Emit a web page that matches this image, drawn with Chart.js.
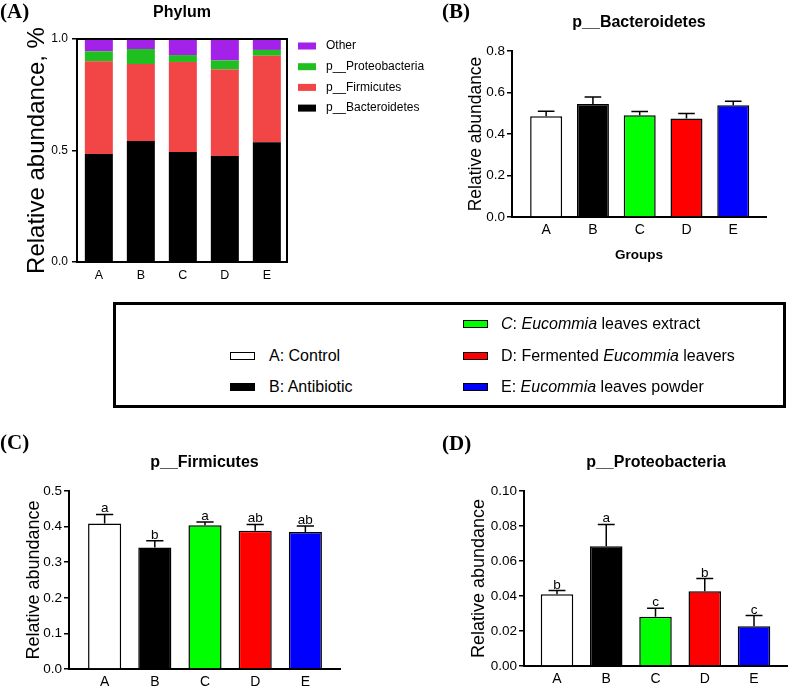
<!DOCTYPE html>
<html>
<head>
<meta charset="utf-8">
<script src="https://cdn.jsdelivr.net/npm/chart.js@4.4.1/dist/chart.umd.min.js"></script>
<style>
  html, body { margin: 0; padding: 0; background: #fff; }
  #wrap { position: relative; width: 788px; height: 688px; background: #fff; overflow: hidden; font-family: 'Liberation Sans', Arial, sans-serif; }
  canvas { position: absolute; }
  .plabel { position: absolute; font-family: 'Liberation Serif', 'Times New Roman', serif; font-weight: bold; font-size: 21px; line-height: 21px; color: #000; }
  #legendBox { position: absolute; left: 113px; top: 302px; width: 673px; height: 106px; border: 3px solid #000; box-sizing: border-box; }
  .sw { position: absolute; width: 25px; height: 8px; box-sizing: border-box; border: 1.5px solid #000; }
  .lt { position: absolute; font-size: 16px; line-height: 16px; color: #000; white-space: nowrap; }
</style>
</head>
<body>
<div id="wrap">
  <canvas id="cA" width="430" height="290" style="left:0;top:0"></canvas>
  <canvas id="cB" width="388" height="290" style="left:400px;top:0"></canvas>
  <canvas id="cC" width="390" height="278" style="left:0;top:410px"></canvas>
  <canvas id="cD" width="398" height="278" style="left:390px;top:410px"></canvas>

  <div class="plabel" style="left:0;top:1px">(A)</div>
  <div class="plabel" style="left:442px;top:1px">(B)</div>
  <div class="plabel" style="left:0;top:432px">(C)</div>
  <div class="plabel" style="left:442px;top:433px">(D)</div>

  <div id="legendBox"></div>
  <div class="sw" style="left:230px;top:352px;background:#fff"></div>
  <div class="lt" style="left:269px;top:348px">A: Control</div>
  <div class="sw" style="left:230px;top:383px;background:#000"></div>
  <div class="lt" style="left:269px;top:379px">B: Antibiotic</div>
  <div class="sw" style="left:463px;top:320px;background:#00ff00"></div>
  <div class="lt" style="left:501px;top:316px"><i>C</i>: <i>Eucommia</i> leaves extract</div>
  <div class="sw" style="left:463px;top:352px;background:#ff0000"></div>
  <div class="lt" style="left:501px;top:348px">D: Fermented <i>Eucommia</i> leavers</div>
  <div class="sw" style="left:463px;top:383px;background:#0000ff"></div>
  <div class="lt" style="left:501px;top:379px">E: <i>Eucommia</i> leaves powder</div>
</div>

<script>
// ---------------- data ----------------
const groups = ['A', 'B', 'C', 'D', 'E'];

// Panel A: stacked phylum composition
const phylumLabels = ['p__Bacteroidetes', 'p__Firmicutes', 'p__Proteobacteria', 'Other'];
const phylumBacteroidetes = [0.484, 0.543, 0.493, 0.475, 0.537];
const phylumFirmicutes    = [0.416, 0.345, 0.404, 0.388, 0.388];
const phylumProteobacteria= [0.045, 0.067, 0.031, 0.041, 0.026];
const phylumOther         = [0.055, 0.045, 0.072, 0.096, 0.049];
const phylumColors = ['#000000', '#f24646', '#1fbf1f', '#a321e8'];
const ticksA = [0, 0.5, 1.0];

// Panel B: p__Bacteroidetes (mean, upper error bar end)
const bactMean = [0.485, 0.544, 0.490, 0.475, 0.539];
const bactErrTop = [0.510, 0.578, 0.509, 0.499, 0.558];
const ticksB = [0, 0.2, 0.4, 0.6, 0.8];

// Panel C: p__Firmicutes
const firmMean = [0.409, 0.341, 0.404, 0.388, 0.385];
const firmErrTop = [0.434, 0.360, 0.413, 0.406, 0.402];
const firmLetters = ['a', 'b', 'a', 'ab', 'ab'];
const ticksC = [0, 0.1, 0.2, 0.3, 0.4, 0.5];

// Panel D: p__Proteobacteria
const proteoMean = [0.0410, 0.0685, 0.0282, 0.0427, 0.0227];
const proteoErrTop = [0.0431, 0.0809, 0.0330, 0.0500, 0.0288];
const proteoLetters = ['b', 'a', 'c', 'b', 'c'];
const ticksD = [0, 0.02, 0.04, 0.06, 0.08, 0.10];

const groupColors = ['#ffffff', '#000000', '#00ff00', '#ff0000', '#0000ff'];

// ---------------- plugins ----------------
const FONT = "'Liberation Sans', Arial, sans-serif";
Chart.defaults.font.family = FONT;
Chart.defaults.color = '#000';

const errorBars = {
  id: 'errorBars',
  afterDatasetsDraw(chart, args, opts) {
    if (!opts.tops) return;
    const meta = chart.getDatasetMeta(0);
    const ys = chart.scales.y;
    const ctx = chart.ctx;
    ctx.save();
    ctx.strokeStyle = '#000';
    ctx.fillStyle = '#000';
    ctx.lineWidth = 1.5;
    ctx.font = '13.5px ' + FONT;
    ctx.textAlign = 'center';
    ctx.textBaseline = 'alphabetic';
    meta.data.forEach((bar, i) => {
      const yTop = ys.getPixelForValue(opts.tops[i]);
      const half = bar.width * 0.26;
      ctx.beginPath();
      ctx.moveTo(bar.x, bar.y);
      ctx.lineTo(bar.x, yTop);
      ctx.moveTo(bar.x - half, yTop);
      ctx.lineTo(bar.x + half, yTop);
      ctx.stroke();
      if (opts.letters) ctx.fillText(opts.letters[i], bar.x, yTop - 2);
    });
    ctx.restore();
  }
};

const frame = {
  id: 'frame',
  afterDatasetsDraw(chart, args, opts) {
    if (!opts.display) return;
    const {ctx, chartArea: a} = chart;
    ctx.save();
    ctx.strokeStyle = '#000';
    ctx.lineWidth = 2;
    ctx.beginPath();
    ctx.moveTo(a.left, a.top);
    ctx.lineTo(a.right, a.top);
    ctx.lineTo(a.right, a.bottom);
    ctx.stroke();
    ctx.restore();
  }
};

const sideLegend = {
  id: 'sideLegend',
  afterDraw(chart, args, opts) {
    if (!opts.display) return;
    const {ctx, chartArea: a} = chart;
    const items = chart.data.datasets.map(d => ({label: d.label, color: d.backgroundColor})).reverse();
    ctx.save();
    ctx.font = '12px ' + FONT;
    ctx.textBaseline = 'middle';
    ctx.textAlign = 'left';
    items.forEach((it, i) => {
      const cy = a.top + 7 + i * 20.7;
      const x0 = a.right + 11;
      ctx.fillStyle = it.color;
      ctx.fillRect(x0, cy - 3.5, 18, 7);
      ctx.fillStyle = '#000';
      ctx.fillText(it.label, x0 + 28, cy);
    });
    ctx.restore();
  }
};

// ---------------- builders ----------------
function xAxis(o) {
  return {
    type: 'linear', min: o.xMin, max: o.xMax, offset: false, stacked: !!o.stacked,
    grid: {display: false, drawTicks: false},
    border: {display: true, color: '#000', width: 2},
    ticks: {
      font: {size: o.xFont, lineHeight: 1}, color: '#000', padding: o.xPad,
      autoSkip: false, maxRotation: 0, minRotation: 0,
      callback: (v) => groups[Math.round(v)] ?? ''
    },
    afterBuildTicks: (s) => { s.ticks = groups.map((g, i) => ({value: i})); },
    afterFit: (s) => { s.height = o.xHeight; },
    title: o.xTitle ? {
      display: true, text: o.xTitle, color: '#000',
      font: {size: 13.5, weight: 'bold', lineHeight: 1},
      padding: {top: 0, bottom: o.xTitlePad}
    } : {display: false}
  };
}

function yAxis(o) {
  return {
    min: o.ticks[0], max: o.ticks[o.ticks.length - 1], stacked: !!o.stacked,
    grid: {display: true, drawOnChartArea: false, drawTicks: true, tickLength: 5, color: '#000', lineWidth: 1.5},
    border: {display: true, color: '#000', width: 2},
    ticks: {
      font: {size: o.yFont}, color: '#000', padding: o.yPad,
      callback: (v) => Number(v).toFixed(o.dec)
    },
    afterBuildTicks: (s) => { s.ticks = o.ticks.map(v => ({value: v})); },
    afterFit: (s) => { s.width = o.yWidth; },
    title: {
      display: true, text: o.yTitle, color: '#000',
      font: {size: o.yTitleSize, lineHeight: 1},
      padding: {top: o.yTitlePad, bottom: 0}
    }
  };
}

function baseOptions(o) {
  return {
    responsive: false, animation: false, devicePixelRatio: 1,
    layout: {padding: {left: 0, top: 0, right: o.padRight, bottom: 0}},
    plugins: {
      legend: {display: false},
      tooltip: {enabled: false},
      title: {
        display: true, text: o.title, fullSize: false, color: '#000',
        font: {size: 16, weight: 'bold', lineHeight: 1},
        padding: {top: o.tTop, bottom: o.tBottom}
      },
      errorBars: {tops: o.errTop, letters: o.letters},
      frame: {display: !!o.frame},
      sideLegend: {display: !!o.sideLegend}
    },
    scales: {x: xAxis(o), y: yAxis(o)}
  };
}

const pts = (arr) => arr.map((v, i) => ({x: i, y: v}));

function groupChart(id, mean, o) {
  new Chart(document.getElementById(id), {
    type: 'bar',
    data: {
      datasets: [{
        label: o.title,
        data: pts(mean),
        backgroundColor: groupColors,
        borderColor: '#000',
        borderWidth: 1.5,
        barPercentage: o.barPct,
        categoryPercentage: 1
      }]
    },
    options: baseOptions(o),
    plugins: [errorBars]
  });
}

// ---------------- Panel A ----------------
const phylumSeries = [phylumBacteroidetes, phylumFirmicutes, phylumProteobacteria, phylumOther];
new Chart(document.getElementById('cA'), {
  type: 'bar',
  data: {
    datasets: phylumSeries.map((s, k) => ({
      label: phylumLabels[k],
      data: pts(s),
      backgroundColor: phylumColors[k],
      borderWidth: 0,
      barPercentage: 0.667,
      categoryPercentage: 1
    }))
  },
  options: baseOptions({
    title: 'Phylum', tTop: 4.5, tBottom: 18.5, padRight: 143,
    xMin: -0.52, xMax: 4.48, xFont: 12.5, xPad: 7.75, xHeight: 28, stacked: true,
    ticks: ticksA, dec: 1, yFont: 12, yPad: 4, yWidth: 77,
    yTitle: 'Relative abundance, %', yTitleSize: 24, yTitlePad: 25,
    frame: true, sideLegend: true
  }),
  plugins: [frame, sideLegend]
});

// ---------------- Panel B ----------------
groupChart('cB', bactMean, {
  title: 'p__Bacteroidetes', tTop: 15, tBottom: 20, padRight: 22,
  xMin: -0.73, xMax: 4.70, xFont: 14, xPad: 6, xHeight: 73,
  xTitle: 'Groups', xTitlePad: 28.25,
  ticks: ticksB, dec: 1, yFont: 13.5, yPad: 2, yWidth: 112,
  yTitle: 'Relative abundance', yTitleSize: 17.5, yTitlePad: 67.25,
  errTop: bactErrTop, barPct: 0.684
});

// ---------------- Panel C ----------------
groupChart('cC', firmMean, {
  title: 'p__Firmicutes', tTop: 45, tBottom: 20, padRight: 50,
  xMin: -0.71, xMax: 4.69, xFont: 14, xPad: 6, xHeight: 19,
  ticks: ticksC, dec: 1, yFont: 13.5, yPad: 2, yWidth: 69,
  yTitle: 'Relative abundance', yTitleSize: 18, yTitlePad: 25,
  errTop: firmErrTop, letters: firmLetters, barPct: 0.66
});

// ---------------- Panel D ----------------
groupChart('cD', proteoMean, {
  title: 'p__Proteobacteria', tTop: 45, tBottom: 20, padRight: 0,
  xMin: -0.67, xMax: 4.69, xFont: 14, xPad: 6, xHeight: 22,
  ticks: ticksD, dec: 2, yFont: 13.5, yPad: 2, yWidth: 134,
  yTitle: 'Relative abundance', yTitleSize: 18, yTitlePad: 80,
  errTop: proteoErrTop, letters: proteoLetters, barPct: 0.66
});
</script>
</body>
</html>
